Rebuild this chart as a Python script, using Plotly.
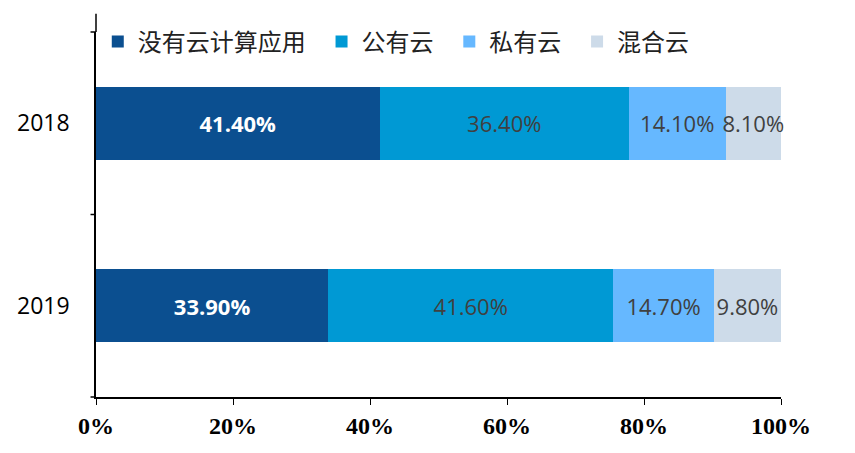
import plotly.graph_objects as go

years = ["2018", "2019"]
series = ["没有云计算应用", "公有云", "私有云", "混合云"]
values = [[41.4, 33.9], [36.4, 41.6], [14.1, 14.7], [8.1, 9.8]]
colors = ["#0b4f90", "#0099d4", "#66b8ff", "#cddbe9"]
tick_vals = [0, 20, 40, 60, 80, 100]
tick_text = ["0%", "20%", "40%", "60%", "80%", "100%"]

fig = go.Figure()
for i, (name, vals) in enumerate(zip(series, values)):
    fig.add_trace(go.Bar(
        y=years, x=vals, name=name + "  ", orientation="h",
        marker=dict(color=colors[i], line=dict(width=0)),
        text=[f"{v:.2f}%" for v in vals], textposition="inside",
        insidetextanchor="middle", textangle=0, cliponaxis=False,
        textfont=dict(size=22, color="white" if i == 0 else "#404040",
                      family="Open Sans",
                      weight="bold" if i == 0 else "normal"),
        constraintext="none",
    ))

fig.update_layout(
    barmode="stack", bargap=0.6, width=855, height=453,
    margin=dict(l=88, r=82, t=24, b=64, autoexpand=False),
    plot_bgcolor="white", paper_bgcolor="white",
    legend=dict(orientation="h", xref="container", yref="container",
                x=0.105, y=0.925, xanchor="left", yanchor="middle",
                font=dict(size=24, family="Noto Sans CJK SC", color="#222"),
                traceorder="normal", bgcolor="rgba(0,0,0,0)"),
    xaxis=dict(range=[0, 100], tickvals=tick_vals, ticktext=tick_text, automargin=False,
               showgrid=False, zeroline=False, showline=True, linecolor="black",
               linewidth=1.5, ticks="outside", ticklen=6, tickcolor="black",
               tickfont=dict(size=24, family="Liberation Serif", color="black", weight="bold")),
    yaxis=dict(autorange="reversed", type="category", showgrid=False, automargin=False,
               showline=True, linecolor="black", linewidth=1.5,
               ticks="", ticklabelstandoff=20,
               tickfont=dict(size=23, family="Open Sans", color="black")),
)
fig.add_shape(type="line", xref="paper", yref="paper", x0=0, x1=0, y0=1, y1=1.05,
              line=dict(color="black", width=1.5))
for yy in [0, 0.5, 1.0]:
    fig.add_shape(type="line", xref="paper", yref="paper", x0=-0.008, x1=0, y0=yy, y1=yy,
                  line=dict(color="black", width=1.5))
fig.write_html("out.html")
